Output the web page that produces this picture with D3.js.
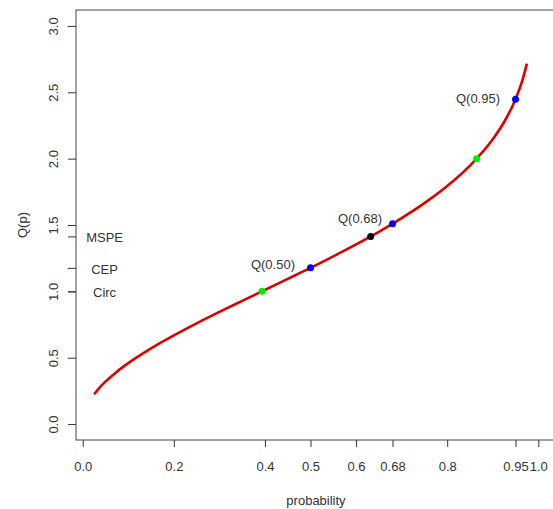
<!DOCTYPE html>
<html>
<head>
<meta charset="utf-8">
<script src="https://cdn.jsdelivr.net/npm/d3@7"></script>
<style>
    body { margin: 0; background: #fff; }
    #chart { width: 553px; height: 509px; }
    text { font-family: "Liberation Sans", Arial, sans-serif; fill: #333; }
</style>
</head>
<body>
<div id="chart"></div>
<script>
// quantile curve Q(p)
let curveP = [0.025, 0.0375, 0.05, 0.075, 0.1, 0.15, 0.2, 0.25, 0.3, 0.35, 0.4, 0.45, 0.5, 0.55, 0.6, 0.65, 0.7, 0.75, 0.8, 0.85, 0.9, 0.925, 0.95, 0.965, 0.975]
let curveQ = [0.225, 0.277, 0.320, 0.395, 0.459, 0.570, 0.668, 0.759, 0.845, 0.928, 1.011, 1.094, 1.177, 1.264, 1.354, 1.449, 1.552, 1.665, 1.794, 1.948, 2.146, 2.276, 2.448, 2.589, 2.716]

// marked points
let pointP = [0.3935, 0.8647, 0.5, 0.68, 0.95, 0.6321]
let pointQ = [1.0, 2.0, 1.177, 1.510, 2.448, 1.414]
let pointColor = ["#00ee00", "#00ee00", "#0000ff", "#0000ff", "#0000ff", "#000000"]

// point labels (right end of text)
let labelText = ["Q(0.50)", "Q(0.68)", "Q(0.95)"]
let labelP = [0.466, 0.657, 0.916]
let labelQ = [1.20, 1.55, 2.45]

// axes
let xTicks = [0, 0.2, 0.4, 0.5, 0.6, 0.68, 0.8, 0.95, 1.0]
let xTickLabels = ["0.0", "0.2", "0.4", "0.5", "0.6", "0.68", "0.8", "0.95", "1.0"]
let yTicks = [0, 0.5, 1.0, 1.5, 2.0, 2.5, 3.0]
let yTickLabels = ["0.0", "0.5", "1.0", "1.5", "2.0", "2.5", "3.0"]

// reference levels marked on the y axis
let refQ = [1.414, 1.177, 1.0]
let refLabels = ["MSPE", "CEP", "Circ"]
let refLabelP = 0.048

class QuantileChart {
    constructor(parentElement) {
        this.parentElement = parentElement
        this.initVis()
    }

    initVis() {
        let vis = this

        vis.box = {left: 76, top: 10, right: 556, bottom: 440}

        vis.svg = d3.select("#" + vis.parentElement).append("svg")
            .attr("width", 553)
            .attr("height", 509)

        // scales (R style 4% padding around data range)
        vis.x = d3.scaleLinear().domain([0, 1]).range([82.7, 538.3])
        vis.y = d3.scaleLinear().domain([-0.12, 3.12]).range([vis.box.bottom, vis.box.top])

        vis.updateVis()
    }

    updateVis() {
        let vis = this

        // x axis
        let xAxis = d3.axisBottom(vis.x)
            .tickValues(xTicks)
            .tickFormat((d, i) => xTickLabels[i])
            .tickSize(7)
            .tickPadding(15)

        let gx = vis.svg.append("g")
            .attr("class", "x-axis axis")
            .attr("transform", "translate(0," + vis.box.bottom + ")")
            .call(xAxis)
        gx.select(".domain").remove()
        gx.selectAll(".tick line").attr("stroke", "#333")
        gx.selectAll(".tick text").style("font-size", "13px").attr("fill", "#333")

        // y axis, regular ticks plus reference ticks
        let yAxis = d3.axisLeft(vis.y)
            .tickValues(yTicks.concat(refQ))
            .tickFormat((d, i) => i < yTicks.length ? yTickLabels[i] : "")
            .tickSize(8)

        let gy = vis.svg.append("g")
            .attr("class", "y-axis axis")
            .attr("transform", "translate(" + vis.box.left + ",0)")
            .call(yAxis)
        gy.select(".domain").remove()
        gy.selectAll(".tick line").attr("stroke", "#333")
        gy.selectAll(".tick text")
            .style("font-size", "13px")
            .attr("fill", "#333")
            .attr("x", 0)
            .attr("y", 0)
            .attr("dy", "0.35em")
            .attr("text-anchor", "middle")
            .attr("transform", "translate(-23,0) rotate(-90)")

        // frame
        vis.svg.append("rect")
            .attr("x", vis.box.left)
            .attr("y", vis.box.top)
            .attr("width", vis.box.right - vis.box.left)
            .attr("height", vis.box.bottom - vis.box.top)
            .attr("fill", "none")
            .attr("stroke", "#444")
            .attr("stroke-width", 1)

        // axis titles
        vis.svg.append("text")
            .attr("x", (vis.box.left + vis.box.right) / 2)
            .attr("y", 500)
            .attr("dy", "0.35em")
            .attr("text-anchor", "middle")
            .style("font-size", "13px")
            .text("probability")

        vis.svg.append("text")
            .attr("transform", "translate(22," + ((vis.box.top + vis.box.bottom) / 2) + ") rotate(-90)")
            .attr("dy", "0.35em")
            .attr("text-anchor", "middle")
            .style("font-size", "13px")
            .text("Q(p)")

        // reference labels
        vis.svg.selectAll(".ref-label")
            .data(refQ)
            .enter().append("text")
            .attr("class", "ref-label")
            .attr("x", vis.x(refLabelP))
            .attr("y", d => vis.y(d))
            .attr("dy", "0.45em")
            .attr("text-anchor", "middle")
            .style("font-size", "13px")
            .text((d, i) => refLabels[i])

        // curve
        let curveData = curveP.map((p, i) => ({p: p, q: curveQ[i]}))
        vis.svg.append("path")
            .datum(curveData)
            .attr("fill", "none")
            .attr("stroke", "#e00000")
            .attr("stroke-width", 2.6)
            .attr("d", d3.line()
                .x(d => vis.x(d.p))
                .y(d => vis.y(d.q))
                .curve(d3.curveMonotoneX)
            )

        // points
        let pointData = pointP.map((p, i) => ({p: p, q: pointQ[i], color: pointColor[i]}))
        vis.svg.selectAll(".pt")
            .data(pointData)
            .enter().append("circle")
            .attr("class", "pt")
            .attr("cx", d => vis.x(d.p))
            .attr("cy", d => vis.y(d.q))
            .attr("r", 3.5)
            .attr("fill", d => d.color)

        // point labels
        vis.svg.selectAll(".pt-label")
            .data(labelText)
            .enter().append("text")
            .attr("class", "pt-label")
            .attr("x", (d, i) => vis.x(labelP[i]))
            .attr("y", (d, i) => vis.y(labelQ[i]))
            .attr("dy", "0.35em")
            .attr("text-anchor", "end")
            .style("font-size", "13px")
            .text(d => d)
    }
}

new QuantileChart("chart")
</script>
</body>
</html>
